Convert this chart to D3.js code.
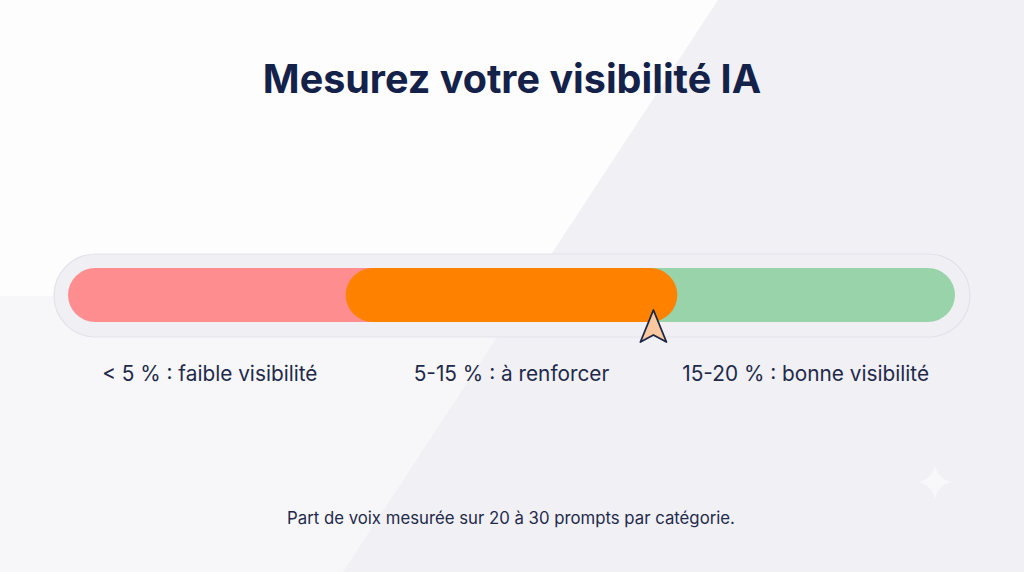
<!DOCTYPE html>
<html>
<head>
<meta charset="utf-8">
<script src="https://cdn.jsdelivr.net/npm/d3@7"></script>
<style>
  body { margin: 0; background: #fdfdfe; }
  svg { display: block; font-family: Inter, "Noto Sans", sans-serif; }
</style>
</head>
<body>
<div class="chart"></div>
<script>
// chart data
var title = "Mesurez votre visibilité IA";
var footnote = "Part de voix mesurée sur 20 à 30 prompts par catégorie.";
var bounds = [0, 5, 15, 20];               // % thresholds
var zoneLabels = ["< 5 % : faible visibilité", "5-15 % : à renforcer", "15-20 % : bonne visibilité"];
var zoneColors = ["#fe8d8f", "#fe8200", "#98d3a9"];
var markerValue = 14.8;

var svgWidth = 1024;
var svgHeight = 572;

var svg = d3.select(".chart")
  .append("svg")
  .attr("width", svgWidth)
  .attr("height", svgHeight);

// background: white top-left, lavender panel on the right
svg.append("rect")
  .attr("width", svgWidth).attr("height", svgHeight)
  .attr("fill", "#fdfdfe");

svg.append("rect")
  .attr("y", 296).attr("width", svgWidth).attr("height", svgHeight - 296)
  .attr("fill", "#f7f7fa");

svg.append("path")
  .attr("d", "M718,0 L1024,0 L1024,572 L343,572 Z")
  .attr("fill", "#f0f0f5");

// sparkle
var sx = 935, sy = 482, sr = 17;
svg.append("path")
  .attr("d", `M${sx},${sy - sr} Q${sx + 3},${sy - 3} ${sx + sr},${sy} Q${sx + 3},${sy + 3} ${sx},${sy + sr} Q${sx - 3},${sy + 3} ${sx - sr},${sy} Q${sx - 3},${sy - 3} ${sx},${sy - sr} Z`)
  .attr("fill", "#f8f8fb");

// title
svg.append("text")
  .attr("x", svgWidth / 2)
  .attr("y", 93)
  .attr("text-anchor", "middle")
  .attr("font-size", 39.5)
  .attr("font-weight", 700)
  .attr("fill", "#14224a")
  .text(title);

// scale: each zone gets a third of the track
var trackLeft = 54, trackRight = 970;
var barLeft = 68, barRight = 955;
var x = d3.scaleLinear()
  .domain(bounds)
  .range([barLeft, barLeft + (barRight - barLeft) / 3, barLeft + 2 * (barRight - barLeft) / 3, barRight]);

// outer track
svg.append("rect")
  .attr("x", trackLeft).attr("y", 254)
  .attr("width", trackRight - trackLeft).attr("height", 83)
  .attr("rx", 41.5)
  .attr("fill", "#f0f0f4")
  .attr("stroke", "#e1e1e9")
  .attr("stroke-width", 1.2);

var barY = 268, barH = 54, overlap = 18;

// red and green zones extend under the middle one
svg.append("rect")
  .attr("x", x(bounds[0])).attr("y", barY)
  .attr("width", x(bounds[1]) + overlap * 2 - x(bounds[0])).attr("height", barH)
  .attr("rx", barH / 2)
  .attr("fill", zoneColors[0]);

svg.append("rect")
  .attr("x", x(bounds[2]) - overlap * 2).attr("y", barY)
  .attr("width", x(bounds[3]) - x(bounds[2]) + overlap * 2).attr("height", barH)
  .attr("rx", barH / 2)
  .attr("fill", zoneColors[2]);

svg.append("rect")
  .attr("x", x(bounds[1]) - overlap).attr("y", barY)
  .attr("width", x(bounds[2]) - x(bounds[1]) + overlap * 2).attr("height", barH)
  .attr("rx", barH / 2)
  .attr("fill", zoneColors[1]);

// zone labels
svg.selectAll(".zone-label")
  .data(zoneLabels)
  .enter()
  .append("text")
  .attr("class", "zone-label")
  .attr("x", (d, i) => (x(bounds[i]) + x(bounds[i + 1])) / 2 + [-6, 0, -1.5][i])
  .attr("y", 381)
  .attr("text-anchor", "middle")
  .attr("font-size", 20.8)
  .attr("fill", "#1f2a4a")
  .text(d => d);

// marker (cursor arrow)
var mx = x(markerValue), my = 310;
svg.append("path")
  .attr("d", `M${mx},${my} L${mx + 13},${my + 32} L${mx},${my + 25} L${mx - 13},${my + 32} Z`)
  .attr("fill", "#fac79e")
  .attr("stroke", "#1c2745")
  .attr("stroke-width", 1.8)
  .attr("stroke-linejoin", "round");

// footnote
svg.append("text")
  .attr("x", svgWidth / 2 - 1)
  .attr("y", 524)
  .attr("text-anchor", "middle")
  .attr("font-size", 16.75)
  .attr("fill", "#1f2a4a")
  .text(footnote);
</script>
</body>
</html>
